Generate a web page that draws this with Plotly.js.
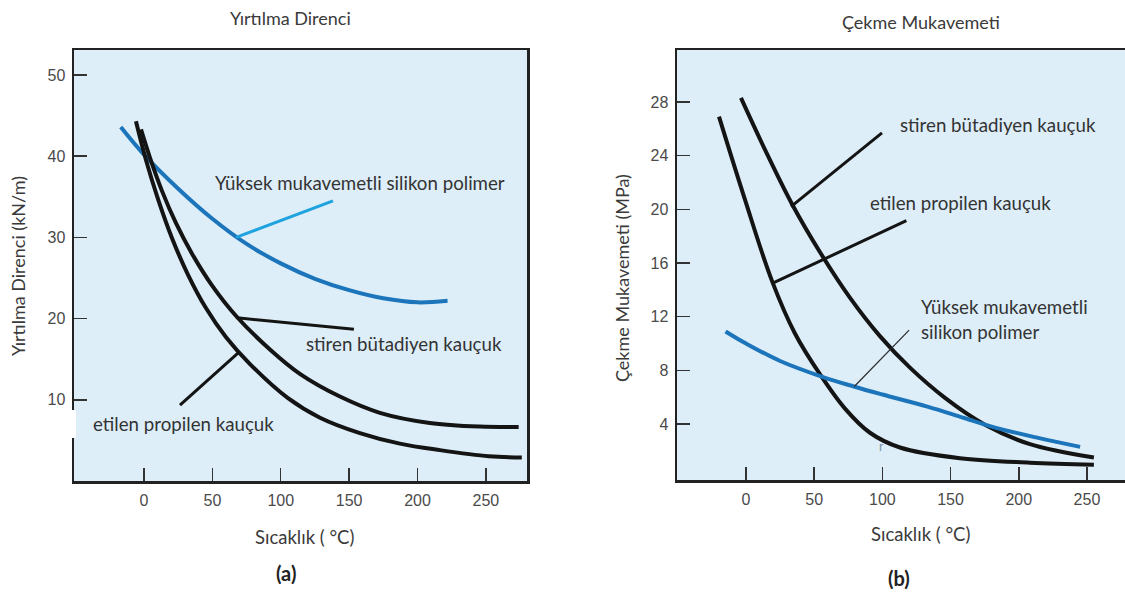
<!DOCTYPE html>
<html>
<head>
<meta charset="utf-8">
<script src="https://cdn.plot.ly/plotly-3.0.1.min.js"></script>
<style>html,body{margin:0;padding:0;background:#fff;}#chart{width:1125px;height:596px;}</style>
</head>
<body>
<div id="chart"></div>
<script>
// ---------- Panel (a): Yırtılma Direnci (kN/m) vs Sıcaklık (°C) ----------
const aSiliconX = [-17, 0, 25, 50, 75, 100, 125, 150, 175, 200, 222];
const aSiliconY = [43.6, 40.2, 36.0, 32.3, 29.2, 26.8, 24.9, 23.5, 22.5, 22.0, 22.2];
const aSbrX = [-2.2, 4.4, 13.2, 23.4, 35.1, 49.7, 68, 92.1, 114, 143.3, 172.5, 209, 245.6, 274];
const aSbrY = [43.3, 39.8, 35.7, 31.75, 28.0, 24.1, 20.2, 16.2, 13.2, 10.4, 8.4, 7.15, 6.7, 6.65];
const aEprX = [-5.9, 1.5, 10.2, 20.5, 32.2, 45.3, 60, 77.5, 105.3, 128.7, 157.9, 187.1, 216.4, 252.2, 276.3];
const aEprY = [44.3, 39.5, 34.75, 29.9, 25.4, 21.3, 17.7, 14.4, 10.2, 7.8, 5.9, 4.6, 3.8, 3.05, 2.9];
const aXTicks = [0, 50, 100, 150, 200, 250];
const aYTicks = [10, 20, 30, 40, 50];

// ---------- Panel (b): Çekme Mukavemeti (MPa) vs Sıcaklık (°C) ----------
const bSbrX = [-3.7, 13.9, 33.7, 54.3, 76.3, 98.2, 120.2, 145.9, 175.2, 208.2, 255.1];
const bSbrY = [28.3, 24.45, 20.4, 16.8, 13.4, 10.55, 8.2, 5.95, 3.95, 2.5, 1.5];
const bEprX = [-19.8, -0.7, 19.1, 35.9, 54.3, 72.6, 90.9, 112.9, 156.9, 208.2, 255.1];
const bEprY = [26.9, 20.7, 14.65, 10.75, 7.7, 5.15, 3.35, 2.25, 1.45, 1.12, 0.97];
const bSiliconX = [-15, 0, 25, 56.5, 79, 100, 133, 160, 184, 215, 245];
const bSiliconY = [10.9, 10.0, 8.7, 7.5, 6.8, 6.2, 5.3, 4.45, 3.7, 2.95, 2.3];
const bXTicks = [0, 50, 100, 150, 200, 250];
const bYTicks = [4, 8, 12, 16, 20, 24, 28];

// Leader lines [x0, y0, x1, y1] in data units
const aLeaderSilicon = [67.3, 30.0, 138.2, 34.5];
const aLeaderSbr = [68, 20.1, 153.5, 18.7];
const aLeaderEpr = [68.7, 15.75, 26.3, 9.35];
const bLeaderSbr = [33.0, 20.2, 99.7, 25.7];
const bLeaderEpr = [19.6, 14.5, 117.6, 19.15];
const bLeaderSilicon = [79.4, 6.8, 119.6, 11.0];

// Texts
const labelSilicon = 'Yüksek mukavemetli silikon polimer';
const labelSiliconB1 = 'Yüksek mukavemetli';
const labelSiliconB2 = 'silikon polimer';
const labelSbr = 'stiren bütadiyen kauçuk';
const labelEpr = 'etilen propilen kauçuk';

const W = 1125, H = 596;
const px = v => v / W;
const py = v => 1 - v / H;

const BLACK = '#141414';
const BLUE = '#1c74ba';
const LEADBLUE = '#1ea3df';
const BG = '#ddeef9';

function curve(x, y, color, xa, ya) {
  return {x: x, y: y, xaxis: xa, yaxis: ya, type: 'scatter', mode: 'lines',
    line: {color: color, width: 4, shape: 'spline', smoothing: 1}, hoverinfo: 'skip', showlegend: false};
}

const data = [
  curve(aSiliconX, aSiliconY, BLUE, 'x', 'y'),
  curve(aSbrX, aSbrY, BLACK, 'x', 'y'),
  curve(aEprX, aEprY, BLACK, 'x', 'y'),
  curve(bSbrX, bSbrY, BLACK, 'x2', 'y2'),
  curve(bEprX, bEprY, BLACK, 'x2', 'y2'),
  curve(bSiliconX, bSiliconY, BLUE, 'x2', 'y2')
];

function leader(l, xr, yr, color, width) {
  return {type: 'line', xref: xr, yref: yr, x0: l[0], y0: l[1], x1: l[2], y1: l[3],
    line: {color: color, width: width}, layer: 'above'};
}

const tickFont = {family: 'Liberation Sans Narrow, Arial Narrow, sans-serif', size: 16, color: '#4a4a4a'};
const LATO = 'Lato, Carlito, Calibri, sans-serif';
const labFont = {family: LATO, size: 18.7, color: '#333333'};
const titleFont = {family: LATO, size: 18, color: '#3a3a3a'};
const xTitleFont = {family: LATO, size: 18.5, color: '#3a3a3a'};

function axisCommon() {
  return {showgrid: false, zeroline: false, showline: true, linecolor: '#222', linewidth: 2.5,
    ticks: 'inside', ticklen: 13, tickwidth: 1.5, tickcolor: '#333', tickfont: tickFont,
    ticklabelstandoff: 3, fixedrange: true};
}

function paperText(x, y, text, font, angle) {
  return {xref: 'paper', yref: 'paper', x: px(x), y: py(y), text: text, showarrow: false,
    font: font, xanchor: 'center', yanchor: 'middle', textangle: angle || 0};
}
function dataText(xr, yr, x, y, text, font, xanchor) {
  return {xref: xr, yref: yr, x: x, y: y, text: text, showarrow: false, font: font,
    xanchor: xanchor || 'center', yanchor: 'middle'};
}

const layout = {
  width: W, height: H,
  margin: {l: 0, r: 0, t: 0, b: 0},
  paper_bgcolor: '#ffffff',
  plot_bgcolor: BG,
  showlegend: false,
  xaxis: Object.assign(axisCommon(), {domain: [px(74), px(527)], range: [-51.2, 280.1],
    tickvals: aXTicks, mirror: true, anchor: 'y'}),
  yaxis: Object.assign(axisCommon(), {domain: [py(481), py(50)], range: [0, 53.08],
    tickvals: aYTicks, mirror: true, anchor: 'x'}),
  xaxis2: Object.assign(axisCommon(), {domain: [px(677), 1], range: [-50.6, 277.9],
    tickvals: bXTicks, mirror: true, anchor: 'y2'}),
  yaxis2: Object.assign(axisCommon(), {domain: [py(480), py(50)], range: [-0.17, 31.87],
    tickvals: bYTicks, mirror: false, anchor: 'x2'}),
  shapes: [
    leader(aLeaderSilicon, 'x', 'y', LEADBLUE, 3),
    leader(aLeaderSbr, 'x', 'y', BLACK, 3),
    leader(aLeaderEpr, 'x', 'y', BLACK, 3),
    leader(bLeaderSbr, 'x2', 'y2', BLACK, 3),
    leader(bLeaderEpr, 'x2', 'y2', BLACK, 3),
    leader(bLeaderSilicon, 'x2', 'y2', '#2a2a2a', 1.2),
    {type: 'rect', xref: 'paper', yref: 'paper', x0: px(71.5), x1: px(76), y0: py(438), y1: py(410),
      fillcolor: '#ffffff', line: {width: 0}, layer: 'above'}
  ],
  annotations: [
    dataText('x', 'y', 157.9, 36.7, labelSilicon, labFont),
    dataText('x', 'y', 189.8, 16.9, labelSbr, labFont),
    dataText('x', 'y', 29.2, 7.0, labelEpr, labFont),
    dataText('x2', 'y2', 185.1, 26.28, labelSbr, labFont),
    dataText('x2', 'y2', 157.6, 20.47, labelEpr, labFont),
    dataText('x2', 'y2', 126.5, 12.72, labelSiliconB1, labFont, 'left'),
    dataText('x2', 'y2', 126.5, 10.86, labelSiliconB2, labFont, 'left'),
    dataText('x2', 'y2', 99.7, 2.29, 'r', {family: 'Liberation Sans Narrow, sans-serif', size: 13, color: '#7f93a3'}),
    paperText(290.5, 18, 'Yırtılma Direnci', titleFont),
    paperText(921, 22, 'Çekme Mukavemeti', titleFont),
    paperText(18, 266, 'Yırtılma Direnci (kN/m)', titleFont, -90),
    paperText(622, 278, 'Çekme Mukavemeti (MPa)', titleFont, -90),
    paperText(304, 537, 'Sıcaklık ( °C)', xTitleFont),
    paperText(920, 534, 'Sıcaklık ( °C)', xTitleFont),
    paperText(286, 573, '<b>(a)</b>', {family: LATO, size: 20, color: '#222'}),
    paperText(898.6, 578, '<b>(b)</b>', {family: LATO, size: 20, color: '#222'})
  ]
};

Plotly.newPlot('chart', data, layout, {staticPlot: true, displayModeBar: false});
</script>
</body>
</html>
